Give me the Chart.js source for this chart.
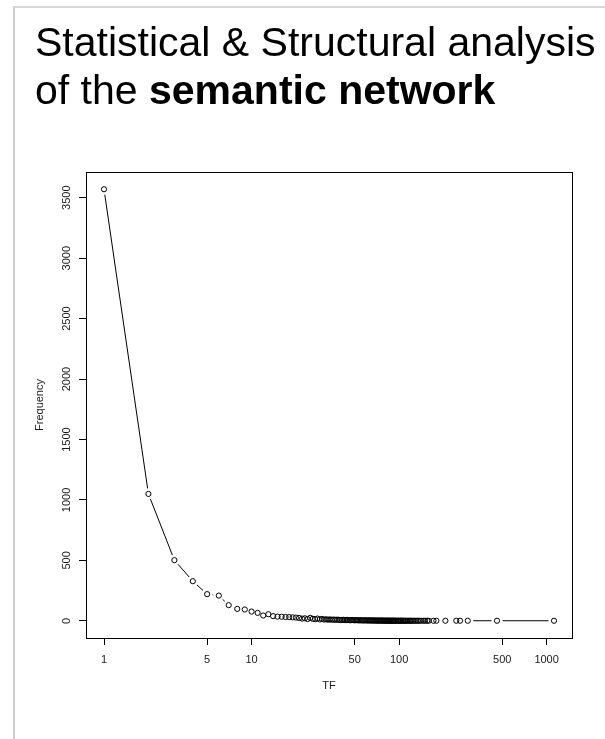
<!DOCTYPE html>
<html>
<head>
<meta charset="utf-8">
<script src="https://cdn.jsdelivr.net/npm/chart.js@4/dist/chart.umd.min.js"></script>
<style>
  html, body { margin: 0; padding: 0; background: #fff; }
  #wrap { position: relative; width: 605px; height: 739px; overflow: hidden; }
  #frame { position: absolute; left: 13px; top: 6px; width: 620px; height: 760px;
           border-left: 2px solid #cfcfcf; border-top: 2px solid #d6d6d6; }
  #title { position: absolute; left: 35px; top: 18px; font-family: "Liberation Sans", Arial, sans-serif;
           font-size: 41px; line-height: 48px; color: #000; white-space: nowrap; }
  #title b { font-weight: bold; }
  canvas { position: absolute; left: 0; top: 0; }
</style>
</head>
<body>
<div id="wrap">
  <div id="frame"></div>
  <canvas id="c" width="605" height="739"></canvas>
  <div id="title">Statistical &amp; Structural analysis<br>of the <b>semantic network</b></div>
</div>
<script>
// ---- data ----
const tfValues = [
  1,2,3,4,5,6,7,8,9,10,11,12,13,14,15,16,17,18,19,20,
  21,22,23,24,25,26,27,28,29,30,31,32,33,34,35,36,37,38,39,40,
  41,42,43,44,45,46,47,48,49,50,51,52,53,54,55,56,57,58,59,60,
  61,62,63,64,65,66,67,68,69,70,71,72,73,74,75,76,77,78,79,80,
  81,82,83,84,85,86,87,88,89,90,91,92,93,94,95,96,98,99,100,102,
  103,104,106,107,109,110,112,114,116,118,120,122,125,128,131,134,137,141,146,150,
  155,159,171,179,206,244,259,292,461,1122
];
const frequencies = [
  3570,1050,502,328,221,209,130,99,94,77,66,44,55,39,35,34,32,31,29,27,
  24,19,21,15,25,17,14,19,12,16,11,13,10,12,9,11,8,10,9,7,
  8,9,6,7,8,6,5,7,6,5,5,6,4,5,4,5,3,4,5,3,
  4,3,4,3,3,4,2,3,3,2,3,2,3,2,2,3,2,2,2,1,
  2,2,1,2,2,1,2,1,1,2,1,1,2,1,1,1,1,2,1,1,
  1,2,1,1,1,1,1,1,1,1,1,1,1,1,1,1,1,1,1,1,
  1,1,1,1,1,1,1,1,1,1
];
const xTickValues = [1, 5, 10, 50, 100, 500, 1000];
const yTickValues = [0, 500, 1000, 1500, 2000, 2500, 3000, 3500];
const xAxisTitle = 'TF';
const yAxisTitle = 'Frequency';

// R-style axis extension (4% each side)
const logMin = Math.log10(Math.min(...tfValues));
const logMax = Math.log10(Math.max(...tfValues));
const logPad = (logMax - logMin) * 0.04;
const yMinData = Math.min(...frequencies), yMaxData = Math.max(...frequencies);
const yPad = (yMaxData - yMinData) * 0.04;

const points = tfValues.map((x, i) => ({ x: x, y: frequencies[i] }));

// draws R type="b" style segments (with gaps around the points), using the library's pixel positions
const gapLines = {
  id: 'gapLines',
  afterDatasetsDraw(chart) {
    const meta = chart.getDatasetMeta(0);
    const pts = meta.data;
    const gap = 5.5;
    const ctx = chart.ctx;
    ctx.save();
    ctx.strokeStyle = '#000';
    ctx.lineWidth = 1;
    ctx.beginPath();
    for (let i = 0; i < pts.length - 1; i++) {
      const a = pts[i], b = pts[i + 1];
      const dx = b.x - a.x, dy = b.y - a.y;
      const d = Math.hypot(dx, dy);
      if (d > 2 * gap) {
        const ux = dx / d, uy = dy / d;
        ctx.moveTo(a.x + ux * gap, a.y + uy * gap);
        ctx.lineTo(b.x - ux * gap, b.y - uy * gap);
      }
    }
    ctx.stroke();
    ctx.restore();
  }
};

const boxPlugin = {
  id: 'boxPlugin',
  afterDraw(chart) {
    const a = chart.chartArea;
    const ctx = chart.ctx;
    ctx.save();
    ctx.strokeStyle = '#000';
    ctx.lineWidth = 1;
    ctx.strokeRect(Math.round(a.left) + 0.5, Math.round(a.top) + 0.5,
                   Math.round(a.right - a.left), Math.round(a.bottom - a.top));
    ctx.restore();
  }
};

const font = { family: '"Liberation Sans", Arial, sans-serif', size: 11 };

new Chart(document.getElementById('c'), {
  type: 'scatter',
  data: {
    datasets: [{
      data: points,
      showLine: false,
      pointRadius: 2.6,
      pointBorderWidth: 1,
      pointBorderColor: '#000',
      pointBackgroundColor: 'rgba(0,0,0,0)',
      pointHoverRadius: 2.6
    }]
  },
  options: {
    responsive: false,
    animation: false,
    devicePixelRatio: 1,
    layout: { padding: { left: 0, top: 172, right: 33, bottom: 0 } },
    plugins: { legend: { display: false }, tooltip: { enabled: false } },
    scales: {
      x: {
        type: 'logarithmic',
        min: Math.pow(10, logMin - logPad),
        max: Math.pow(10, logMax + logPad),
        afterBuildTicks(scale) { scale.ticks = xTickValues.map(v => ({ value: v })); },
        afterFit(scale) { scale.height = 101; },
        ticks: {
          autoSkip: false, maxRotation: 0, minRotation: 0, padding: 8,
          color: '#1a1a1a', font: font,
          callback: (v) => String(v)
        },
        grid: { drawOnChartArea: false, drawTicks: true, tickLength: 7, color: '#000', lineWidth: 1 },
        border: { display: false },
        title: { display: true, text: xAxisTitle, color: '#1a1a1a', font: font, padding: { top: 0, bottom: 46 } }
      },
      y: {
        type: 'linear',
        min: yMinData - yPad,
        max: yMaxData + yPad,
        afterBuildTicks(scale) { scale.ticks = yTickValues.map(v => ({ value: v })); },
        afterFit(scale) { scale.width = 86; },
        ticks: {
          autoSkip: false, minRotation: 90, maxRotation: 90, padding: 0, crossAlign: 'center',
          color: '#1a1a1a', font: font,
          callback: (v) => String(v)
        },
        grid: { drawOnChartArea: false, drawTicks: true, tickLength: 7, color: '#000', lineWidth: 1 },
        border: { display: false },
        title: { display: true, text: yAxisTitle, color: '#1a1a1a', font: font, padding: { top: 33, bottom: 0 } }
      }
    }
  },
  plugins: [gapLines, boxPlugin]
});
</script>
</body>
</html>
